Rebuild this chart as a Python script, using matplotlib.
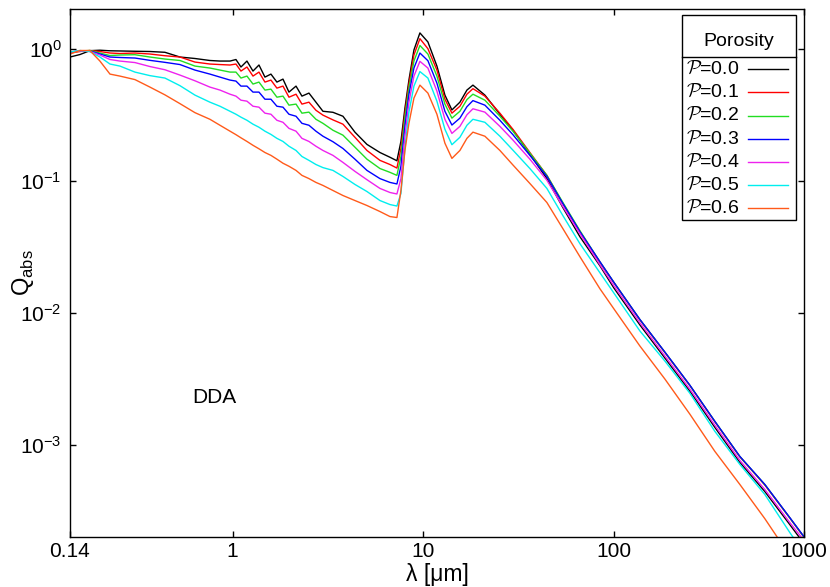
import matplotlib
matplotlib.use("Agg")
import matplotlib.pyplot as plt
from matplotlib.lines import Line2D
from matplotlib.patches import Rectangle
from matplotlib.ticker import FixedLocator, NullLocator, LogFormatterSciNotation

plt.rcParams["font.family"] = ["Liberation Sans", "DejaVu Sans"]

# wavelength grid [um]
wavelength = [
    0.14, 0.158, 0.178, 0.201, 0.227, 0.256, 0.307, 0.368, 0.441, 0.529,
    0.634, 0.760, 0.858, 0.969, 1.041, 1.106, 1.189, 1.279, 1.375, 1.478,
    1.589, 1.708, 1.838, 1.976, 2.152, 2.312, 2.516, 2.738, 2.980, 3.363,
    3.795, 4.387, 5.073, 5.936, 6.699, 7.288, 7.650, 8.029, 8.427, 8.952,
    9.623, 10.60, 11.82, 13.02, 14.17, 15.61, 16.99, 18.27, 21.11, 25.31,
    29.62, 36.37, 44.67, 54.20, 66.58, 84.79, 100.4, 137.5, 186.0, 251.6,
    340.3, 460.5, 622.9, 842.5, 1000.0,
]

q_p00 = [
    0.869, 0.908, 0.971, 0.979, 0.969, 0.966, 0.961, 0.957, 0.944, 0.869,
    0.847, 0.818, 0.810, 0.810, 0.832, 0.730, 0.810, 0.680, 0.756, 0.612,
    0.645, 0.561, 0.591, 0.471, 0.523, 0.439, 0.463, 0.395, 0.337, 0.331,
    0.309, 0.234, 0.189, 0.164, 0.151, 0.142, 0.199, 0.356, 0.581, 0.983,
    1.324, 1.131, 0.742, 0.447, 0.345, 0.395, 0.488, 0.532, 0.447, 0.320,
    0.242, 0.159, 0.104, 0.0627, 0.0377, 0.0227, 0.0154, 0.00808, 0.00453, 0.00254,
    0.00135, 0.000732, 0.000440, 0.000247, 0.000177,
]
q_p01 = [
    0.932, 0.957, 0.974, 0.957, 0.932, 0.924, 0.932, 0.916, 0.889, 0.869,
    0.796, 0.769, 0.762, 0.756, 0.769, 0.680, 0.730, 0.623, 0.668, 0.561,
    0.581, 0.505, 0.523, 0.431, 0.454, 0.382, 0.395, 0.343, 0.315, 0.290,
    0.269, 0.214, 0.170, 0.143, 0.133, 0.125, 0.176, 0.326, 0.542, 0.900,
    1.198, 1.005, 0.692, 0.416, 0.326, 0.368, 0.454, 0.500, 0.439, 0.326,
    0.246, 0.164, 0.110, 0.0673, 0.0412, 0.0241, 0.0169, 0.00882, 0.00499, 0.00280,
    0.00149, 0.000806, 0.000493, 0.000277, 0.000198,
]
q_p02 = [
    0.941, 0.966, 0.974, 0.932, 0.892, 0.900, 0.905, 0.869, 0.839, 0.818,
    0.742, 0.717, 0.692, 0.668, 0.668, 0.602, 0.623, 0.542, 0.561, 0.488,
    0.496, 0.431, 0.439, 0.375, 0.382, 0.326, 0.332, 0.293, 0.273, 0.242,
    0.222, 0.180, 0.146, 0.124, 0.116, 0.110, 0.153, 0.299, 0.505, 0.810,
    1.063, 0.916, 0.623, 0.382, 0.299, 0.337, 0.413, 0.454, 0.409, 0.309,
    0.238, 0.162, 0.110, 0.0685, 0.0419, 0.0243, 0.0170, 0.00887, 0.00502, 0.00281,
    0.00150, 0.000811, 0.000497, 0.000278, 0.000199,
]
q_p03 = [
    0.949, 0.966, 0.966, 0.916, 0.869, 0.862, 0.854, 0.820, 0.792, 0.762,
    0.692, 0.645, 0.612, 0.581, 0.571, 0.523, 0.523, 0.471, 0.471, 0.416,
    0.416, 0.368, 0.362, 0.320, 0.309, 0.273, 0.264, 0.238, 0.218, 0.198,
    0.176, 0.146, 0.120, 0.104, 0.0973, 0.0947, 0.129, 0.259, 0.454, 0.717,
    0.932, 0.815, 0.551, 0.337, 0.265, 0.299, 0.365, 0.406, 0.375, 0.288,
    0.224, 0.156, 0.108, 0.0673, 0.0412, 0.0244, 0.0170, 0.00889, 0.00503, 0.00282,
    0.00150, 0.000813, 0.000498, 0.000279, 0.000200,
]
q_p04 = [
    0.949, 0.966, 0.957, 0.900, 0.832, 0.810, 0.789, 0.736, 0.696, 0.634,
    0.574, 0.514, 0.488, 0.454, 0.439, 0.409, 0.402, 0.368, 0.362, 0.326,
    0.320, 0.288, 0.278, 0.250, 0.238, 0.210, 0.199, 0.183, 0.170, 0.156,
    0.138, 0.118, 0.102, 0.0876, 0.0816, 0.0795, 0.104, 0.218, 0.395, 0.623,
    0.806, 0.717, 0.479, 0.293, 0.229, 0.259, 0.317, 0.352, 0.332, 0.259,
    0.204, 0.146, 0.101, 0.0638, 0.0398, 0.0231, 0.0160, 0.00837, 0.00469, 0.00263,
    0.00140, 0.000758, 0.000456, 0.000256, 0.000187,
]
q_p05 = [
    0.949, 0.974, 0.957, 0.869, 0.769, 0.742, 0.668, 0.628, 0.602, 0.527,
    0.447, 0.395, 0.368, 0.337, 0.320, 0.304, 0.288, 0.269, 0.255, 0.238,
    0.225, 0.210, 0.199, 0.183, 0.170, 0.153, 0.143, 0.133, 0.126, 0.120,
    0.108, 0.0939, 0.0830, 0.0709, 0.0661, 0.0644, 0.0802, 0.176, 0.332, 0.523,
    0.674, 0.602, 0.402, 0.246, 0.188, 0.214, 0.264, 0.293, 0.278, 0.218,
    0.171, 0.124, 0.0876, 0.0545, 0.0334, 0.0201, 0.0141, 0.00727, 0.00430, 0.00245,
    0.00126, 0.000707, 0.000418, 0.000215, 0.000151,
]
q_p06 = [
    0.916, 0.974, 0.974, 0.810, 0.645, 0.623, 0.586, 0.514, 0.449, 0.385,
    0.329, 0.293, 0.264, 0.238, 0.224, 0.212, 0.199, 0.186, 0.175, 0.164,
    0.156, 0.146, 0.136, 0.129, 0.120, 0.110, 0.104, 0.0973, 0.0923, 0.0845,
    0.0774, 0.0709, 0.0650, 0.0585, 0.0536, 0.0527, 0.0845, 0.170, 0.273, 0.424,
    0.532, 0.463, 0.320, 0.193, 0.148, 0.170, 0.210, 0.234, 0.218, 0.170,
    0.132, 0.0955, 0.0685, 0.0434, 0.0266, 0.0152, 0.0107, 0.00559, 0.00314, 0.00170,
    0.000888, 0.000498, 0.000274, 0.000143, 0.0000993,
]

series = [q_p00, q_p01, q_p02, q_p03, q_p04, q_p05, q_p06]
porosity = ["0.0", "0.1", "0.2", "0.3", "0.4", "0.5", "0.6"]
colors = ["#000000", "#ff0000", "#22dd22", "#0000ff", "#ee22ee", "#00eeee", "#ff5a1a"]

xticks = [0.14, 1, 10, 100, 1000]
xtick_labels = ["0.14", "1", "10", "100", "1000"]
yticks = [1e-3, 1e-2, 1e-1, 1]

W, H = 830, 587
fig = plt.figure(figsize=(W / 100, H / 100), dpi=100)
ax = fig.add_axes([70 / W, 1 - 536.7 / H, 734 / W, 527.4 / H])

for q, c in zip(series, colors):
    ax.plot(wavelength, q, color=c, lw=1.0)

ax.set_xscale("log")
ax.set_yscale("log")
ax.set_xlim(0.14, 1000)
ax.set_ylim(2e-4, 2)

ax.xaxis.set_major_locator(FixedLocator(xticks))
ax.set_xticklabels(xtick_labels)
ax.xaxis.set_minor_locator(NullLocator())
ax.yaxis.set_major_locator(FixedLocator(yticks))
ax.yaxis.set_major_formatter(LogFormatterSciNotation())
ax.yaxis.set_minor_locator(NullLocator())
ax.tick_params(direction="in", length=4.5, width=1, top=True, right=True,
               labelsize=15, pad=6)
ax.tick_params(axis="x", pad=4)
for s in ax.spines.values():
    s.set_linewidth(1.0)

ax.set_xlabel("λ [μm]", fontsize=16.5)
ax.xaxis.set_label_coords(0.5, -0.05)
ax.set_ylabel(r"Q$_{\mathdefault{abs}}$", fontsize=17)
ax.yaxis.set_label_coords(-0.047, 0.5)

ax.text(0.196, 0.263, "DDA", transform=ax.transAxes, fontsize=15,
        ha="center", va="center")

# legend box drawn by hand (gnuplot style, title row with separator)
def fx(px):
    return px / W

def fy(py):
    return 1 - py / H

fig.add_artist(Rectangle((fx(682), fy(220)), fx(796) - fx(682), fy(15) - fy(220),
                         fill=False, ec="black", lw=1.0, transform=fig.transFigure))
fig.add_artist(Line2D([fx(682), fx(796)], [fy(56.7), fy(56.7)], color="black",
                      lw=1.0, transform=fig.transFigure))
fig.text(fx(739), fy(42), "Porosity", fontsize=14, ha="center", va="center")
for i, (p, c) in enumerate(zip(porosity, colors)):
    yy = fy(69.3 + i * 23.17)
    fig.text(fx(686), yy, r"$\mathcal{P}$=" + p, fontsize=14, ha="left",
             va="center", math_fontfamily="cm")
    fig.add_artist(Line2D([fx(748), fx(788)], [yy, yy], color=c, lw=1.0,
                          transform=fig.transFigure))

fig.savefig("out.png", dpi=100)
